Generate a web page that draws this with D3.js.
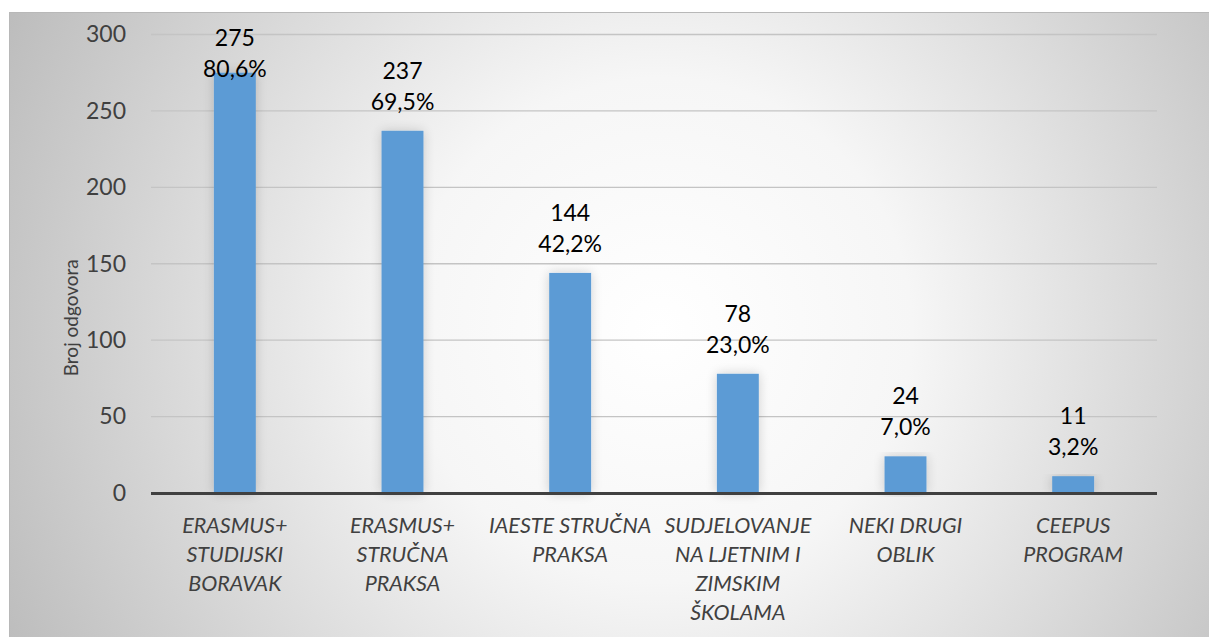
<!DOCTYPE html>
<html>
<head>
<meta charset="utf-8">
<script src="https://cdn.jsdelivr.net/npm/d3@7"></script>
<style>
  html, body { margin: 0; padding: 0; background: #fff; }
  svg { display: block; }
</style>
</head>
<body>
<svg id="chart" width="1209" height="637"></svg>
<script>
var categories = [
  ['ERASMUS+', 'STUDIJSKI', 'BORAVAK'],
  ['ERASMUS+', 'STRUČNA', 'PRAKSA'],
  ['IAESTE STRUČNA', 'PRAKSA'],
  ['SUDJELOVANJE', 'NA LJETNIM I', 'ZIMSKIM', 'ŠKOLAMA'],
  ['NEKI DRUGI', 'OBLIK'],
  ['CEEPUS', 'PROGRAM']
];
var counts = [275, 237, 144, 78, 24, 11];
var percents = ['80,6%', '69,5%', '42,2%', '23,0%', '7,0%', '3,2%'];
var yTicks = [0, 50, 100, 150, 200, 250, 300];
var yTitle = 'Broj odgovora';

var svg = d3.select('#chart');
var font = 'Lato, "Open Sans", sans-serif';

// background panel
var defs = svg.append('defs');
var grad = defs.append('radialGradient').attr('id', 'bg')
  .attr('gradientUnits', 'userSpaceOnUse')
  .attr('cx', 660).attr('cy', 330).attr('r', 720);
grad.append('stop').attr('offset', '0%').attr('stop-color', '#ffffff');
grad.append('stop').attr('offset', '35%').attr('stop-color', '#f6f6f6');
grad.append('stop').attr('offset', '100%').attr('stop-color', '#bdbdbd');

var shadow = defs.append('filter').attr('id', 'glow')
  .attr('x', '-40%').attr('y', '-10%').attr('width', '180%').attr('height', '120%');
shadow.append('feGaussianBlur').attr('in', 'SourceAlpha').attr('stdDeviation', 6).attr('result', 'b');
shadow.append('feComponentTransfer').attr('in', 'b').attr('result', 'c')
  .append('feFuncA').attr('type', 'linear').attr('slope', 0.18);
var merge = shadow.append('feMerge');
merge.append('feMergeNode').attr('in', 'c');
merge.append('feMergeNode').attr('in', 'SourceGraphic');

svg.append('rect')
  .attr('x', 9.5).attr('y', 12.5).attr('width', 1200).attr('height', 630)
  .attr('fill', 'url(#bg)')
  .attr('stroke', '#b8b8b8').attr('stroke-width', 1);

var margin = {left: 151, right: 52, top: 34.5, bottom: 144};
var W = 1209, H = 637;

var x = d3.scaleBand()
  .domain(d3.range(categories.length))
  .range([margin.left, W - margin.right])
  .paddingInner(0.75).paddingOuter(0.375);

var y = d3.scaleLinear()
  .domain([0, 300])
  .range([H - margin.bottom, margin.top]);

// gridlines
svg.append('g')
  .selectAll('line').data(yTicks.slice(1)).enter().append('line')
  .attr('x1', margin.left).attr('x2', W - margin.right)
  .attr('y1', function(d) { return y(d); })
  .attr('y2', function(d) { return y(d); })
  .attr('stroke', '#c4c4c4').attr('stroke-width', 1.3);

// y tick labels
var yAxis = svg.append('g')
  .attr('transform', 'translate(' + (margin.left - 25) + ',0)')
  .call(d3.axisLeft(y).tickValues(yTicks).tickSize(0).tickPadding(0));
yAxis.select('.domain').remove();
yAxis.selectAll('text')
  .attr('font-family', font).attr('font-size', 23).attr('fill', '#404040');

svg.append('text')
  .attr('transform', 'translate(78,' + (margin.top + (y(0) - margin.top) / 2 + 54) + ') rotate(-90)')
  .attr('text-anchor', 'middle')
  .attr('font-family', font).attr('font-size', 19).attr('fill', '#404040')
  .text(yTitle);

// bars
svg.append('g')
  .selectAll('rect').data(counts).enter().append('rect')
  .attr('x', function(d, i) { return x(i); })
  .attr('width', x.bandwidth())
  .attr('y', function(d) { return y(d); })
  .attr('height', function(d) { return y(0) - y(d); })
  .attr('fill', '#5b9bd5')
  .attr('filter', 'url(#glow)');

// axis line
svg.append('line')
  .attr('x1', margin.left).attr('x2', W - margin.right)
  .attr('y1', y(0) + 0.5).attr('y2', y(0) + 0.5)
  .attr('stroke', '#404040').attr('stroke-width', 3);

// data labels (kept inside the plot area, like Excel does)
var lab = svg.append('g').selectAll('g').data(counts).enter().append('g')
  .attr('transform', function(d, i) {
    var base = Math.max(y(d) - 21, margin.top + 42);
    return 'translate(' + (x(i) + x.bandwidth() / 2) + ',' + base + ')';
  });
lab.append('text')
  .attr('text-anchor', 'middle').attr('y', -31)
  .attr('font-family', font).attr('font-size', 23).attr('fill', '#000')
  .text(function(d) { return d; });
lab.append('text')
  .attr('text-anchor', 'middle').attr('y', 0)
  .attr('font-family', font).attr('font-size', 23).attr('fill', '#000')
  .text(function(d, i) { return percents[i]; });

// category labels
var cat = svg.append('g').selectAll('text').data(categories).enter().append('text')
  .attr('text-anchor', 'middle')
  .attr('font-family', font).attr('font-size', 21.5).attr('font-style', 'italic')
  .attr('fill', '#404040')
  .attr('transform', function(d, i) {
    return 'translate(' + (x(i) + x.bandwidth() / 2) + ',' + (y(0) + 40) + ')';
  });
cat.selectAll('tspan').data(function(d) { return d; }).enter().append('tspan')
  .attr('x', 0)
  .attr('y', function(d, i) { return i * 29; })
  .text(function(d) { return d; });
</script>
</body>
</html>
